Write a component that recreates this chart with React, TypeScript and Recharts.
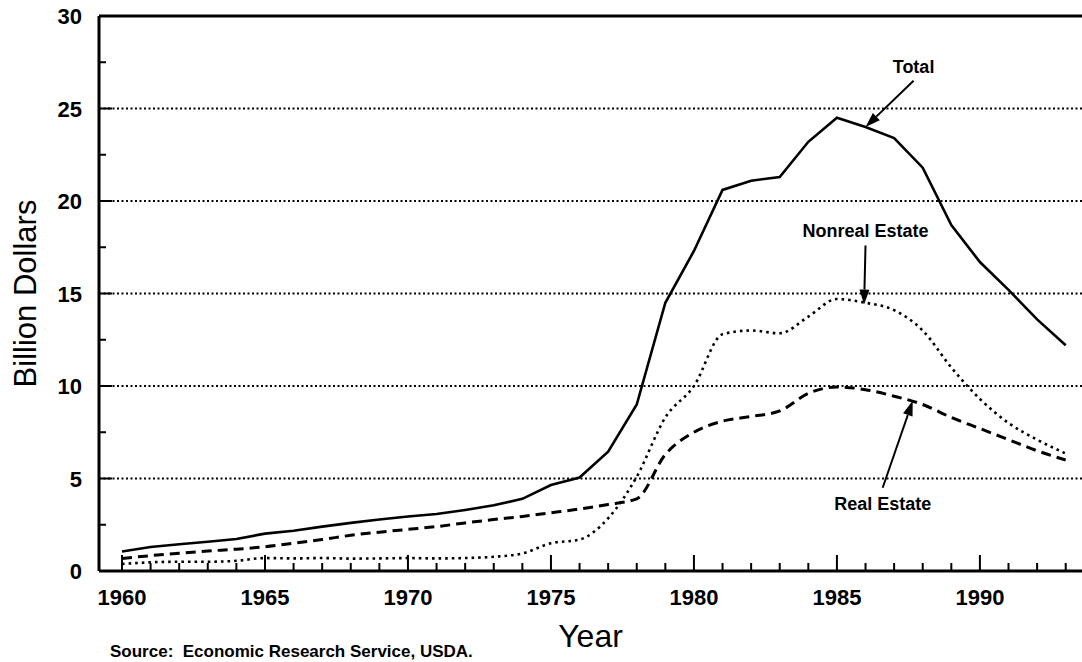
import React from 'react';
import { LineChart, Line, XAxis, YAxis, ReferenceLine } from 'recharts';

// values, billion dollars
const years = [
  1960, 1961, 1962, 1963, 1964, 1965, 1966, 1967, 1968, 1969, 1970, 1971,
  1972, 1973, 1974, 1975, 1976, 1977, 1978, 1979, 1980, 1981, 1982, 1983,
  1984, 1985, 1986, 1987, 1988, 1989, 1990, 1991, 1992, 1993,
];
const total = [
  1.05, 1.3, 1.45, 1.58, 1.73, 2.02, 2.18, 2.4, 2.6, 2.78, 2.95, 3.08, 3.3,
  3.55, 3.9, 4.65, 5.05, 6.45, 9.0, 14.5, 17.3, 20.6, 21.1, 21.3, 23.2, 24.5,
  24.0, 23.4, 21.8, 18.7, 16.7, 15.2, 13.6, 12.2,
];
const realEstate = [
  0.68, 0.83, 0.96, 1.08, 1.18, 1.31, 1.5, 1.7, 1.93, 2.1, 2.25, 2.4, 2.6,
  2.78, 2.95, 3.15, 3.35, 3.6, 3.9, 6.3, 7.5, 8.1, 8.35, 8.65, 9.6, 9.95, 9.8,
  9.45, 9.0, 8.3, 7.7, 7.1, 6.5, 6.0,
];
const nonrealEstate = [
  0.38, 0.47, 0.5, 0.5, 0.55, 0.7, 0.68, 0.7, 0.67, 0.68, 0.7, 0.68, 0.7,
  0.77, 0.95, 1.5, 1.7, 2.85, 5.1, 8.3, 10.0, 12.8, 13.0, 12.85, 13.75, 14.7,
  14.5, 14.1, 13.0, 11.0, 9.3, 8.0, 7.1, 6.35,
];
const yTicks = [0, 2.5, 5, 7.5, 10, 12.5, 15, 17.5, 20, 22.5, 25, 27.5, 30];
const gridValues = [5, 10, 15, 20, 25];

// callouts, in data units: arrow tail, arrow tip
const callouts = [
  { text: 'Total', from: [1987.68, 26.5], to: [1986.0, 24.0], dy: -8 },
  { text: 'Nonreal Estate', from: [1986.0, 17.6], to: [1985.95, 14.4], dy: -8 },
  { text: 'Real Estate', from: [1986.6, 4.5], to: [1987.65, 9.2], dy: 22 },
];

const data = years.map((year, i) => ({
  year,
  total: total[i],
  realEstate: realEstate[i],
  nonrealEstate: nonrealEstate[i],
}));

const FONT = '"Liberation Sans", Arial, Helvetica, sans-serif';

const YearTick = (props: any) => {
  const { x, y, payload } = props;
  const major = payload.value % 5 === 0;
  return (
    <g>
      <line x1={x} y1={y} x2={x} y2={y - (major ? 16 : 8)} stroke="#000" strokeWidth={2} />
      {major && (
        <text x={x} y={y + 34} textAnchor="middle" fontFamily={FONT} fontSize={22} fontWeight="bold" fill="#000">
          {payload.value}
        </text>
      )}
    </g>
  );
};

const ValueTick = (props: any) => {
  const { x, y, payload } = props;
  const major = payload.value % 5 === 0;
  return (
    <g>
      <line x1={x} y1={y} x2={x + (major ? 13 : 7)} y2={y} stroke="#000" strokeWidth={2} />
      {major && (
        <text x={x - 17} y={y + 8} textAnchor="end" fontFamily={FONT} fontSize={22} fontWeight="bold" fill="#000">
          {payload.value}
        </text>
      )}
    </g>
  );
};

const arrowShape = (text: string, dy: number) => (props: any) => {
  const { x1, y1, x2, y2 } = props;
  const ang = Math.atan2(y2 - y1, x2 - x1);
  const len = 15;
  const half = 5;
  const bx = x2 - len * Math.cos(ang);
  const by = y2 - len * Math.sin(ang);
  const px = -Math.sin(ang) * half;
  const py = Math.cos(ang) * half;
  return (
    <g>
      <line x1={x1} y1={y1} x2={bx} y2={by} stroke="#000" strokeWidth={2} />
      <polygon points={`${x2},${y2} ${bx + px},${by + py} ${bx - px},${by - py}`} fill="#000" />
      <text x={x1} y={y1 + dy} textAnchor="middle" fontFamily={FONT} fontSize={18} fontWeight="bold" fill="#000">
        {text}
      </text>
    </g>
  );
};

const App: React.FC = () => {
  return (
    <div style={{ position: 'absolute', left: 0, top: 0, width: 1082, height: 662, background: '#fff', fontFamily: FONT }}>
      <LineChart width={1082} height={662} data={data} margin={{ top: 16, right: 0, bottom: 0, left: 0 }}>
        <XAxis
          dataKey="year"
          type="number"
          domain={[1959.196, 1993.57]}
          allowDataOverflow
          ticks={years}
          interval={0}
          height={91}
          tickSize={0}
          tickMargin={0}
          tickLine={false}
          tick={<YearTick />}
          axisLine={{ stroke: '#000', strokeWidth: 3 }}
          label={({ viewBox }: any) => (
            <g>
              <text x={viewBox.x + viewBox.width / 2} y={viewBox.y + 76} textAnchor="middle" fontFamily={FONT} fontSize={32} fill="#000">
                Year
              </text>
              <text x={110} y={viewBox.y + 86} fontFamily={FONT} fontSize={17} fontWeight="bold" fill="#000" style={{ whiteSpace: 'pre' }}>
                Source:  Economic Research Service, USDA.
              </text>
            </g>
          )}
        />
        <YAxis
          type="number"
          domain={[0, 30]}
          ticks={yTicks}
          interval={0}
          width={99}
          tickSize={0}
          tickMargin={0}
          tickLine={false}
          tick={<ValueTick />}
          axisLine={{ stroke: '#000', strokeWidth: 3 }}
          label={({ viewBox }: any) => (
            <text
              x={25}
              y={viewBox.y + viewBox.height / 2}
              transform={`rotate(-90, 25, ${viewBox.y + viewBox.height / 2})`}
              textAnchor="middle"
              dominantBaseline="central"
              fontFamily={FONT}
              fontSize={31}
              fill="#000"
            >
              Billion Dollars
            </text>
          )}
        />
        {gridValues.map((v) => (
          <ReferenceLine key={v} y={v} stroke="#000" strokeWidth={2} strokeDasharray="2 2.5" />
        ))}
        <ReferenceLine y={30} stroke="#000" strokeWidth={3} />
        <Line type="linear" dataKey="total" stroke="#000" strokeWidth={2.6} dot={false} isAnimationActive={false} />
        <Line type="monotone" dataKey="realEstate" stroke="#000" strokeWidth={3} strokeDasharray="10 6" dot={false} isAnimationActive={false} />
        <Line type="monotone" dataKey="nonrealEstate" stroke="#000" strokeWidth={2.6} strokeDasharray="2.6 4" dot={false} isAnimationActive={false} />
        {callouts.map((c) => (
          <ReferenceLine
            key={c.text}
            segment={[{ x: c.from[0], y: c.from[1] }, { x: c.to[0], y: c.to[1] }]}
            ifOverflow="visible"
            shape={arrowShape(c.text, c.dy)}
          />
        ))}
      </LineChart>
    </div>
  );
};

export default App;
